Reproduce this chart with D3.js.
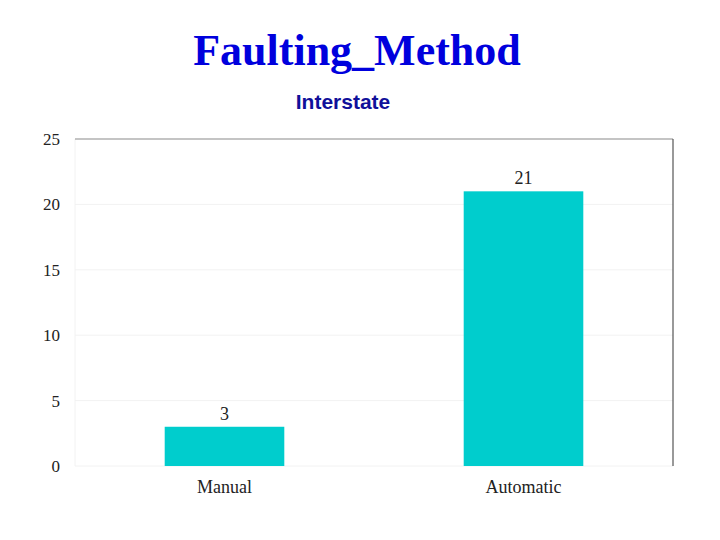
<!DOCTYPE html>
<html>
<head>
<meta charset="utf-8">
<script src="https://cdn.jsdelivr.net/npm/d3@7"></script>
<style>
  html, body { margin: 0; padding: 0; background: #fff; }
  svg { display: block; }
</style>
</head>
<body>
<div id="chart"></div>
<script>
// ── Data ─────────────────────────────────────
const categories = ["Manual", "Automatic"];
const counts     = [3, 21];
const yTicks     = [0, 5, 10, 15, 20, 25];

const W = 720, H = 540;
const plot = { left: 75, right: 673, top: 139, bottom: 466 };

const svg = d3.select("#chart")
  .append("svg")
  .attr("width",  W)
  .attr("height", H);

// ── Scales ────────────────────────────────────
const x = d3.scaleBand()
  .domain(categories)
  .range([plot.left, plot.right])
  .paddingInner(0.6)
  .paddingOuter(0.3);

const y = d3.scaleLinear()
  .domain([0, 25])
  .range([plot.bottom, plot.top]);

// ── Titles ────────────────────────────────────
svg.append("text")
  .attr("x", 357).attr("y", 65)
  .attr("text-anchor", "middle")
  .attr("fill", "#0000dd")
  .attr("font-family", "'Liberation Serif', 'Times New Roman', serif")
  .attr("font-weight", "bold")
  .attr("font-size", "44px")
  .text("Faulting_Method");

svg.append("text")
  .attr("x", 343).attr("y", 109)
  .attr("text-anchor", "middle")
  .attr("fill", "#10109a")
  .attr("font-family", "'Liberation Sans', Arial, sans-serif")
  .attr("font-weight", "bold")
  .attr("font-size", "21px")
  .text("Interstate");

// ── Grid lines ────────────────────────────────
svg.append("g")
  .selectAll("line")
  .data(yTicks.slice(0, -1))
  .join("line")
  .attr("x1", plot.left).attr("x2", plot.right)
  .attr("y1", d => y(d)).attr("y2", d => y(d))
  .attr("stroke", "#f2f2f2")
  .attr("stroke-width", 1);

// faint left axis
svg.append("line")
  .attr("x1", plot.left).attr("x2", plot.left)
  .attr("y1", plot.top).attr("y2", plot.bottom)
  .attr("stroke", "#f2f2f2");

// top + right frame
svg.append("line")
  .attr("x1", plot.left).attr("x2", plot.right)
  .attr("y1", y(25)).attr("y2", y(25))
  .attr("stroke", "#8a8a8a").attr("stroke-width", 1.2);

svg.append("line")
  .attr("x1", plot.right).attr("x2", plot.right)
  .attr("y1", y(25)).attr("y2", y(0))
  .attr("stroke", "#555").attr("stroke-width", 1.2);

// ── Y axis ────────────────────────────────────
svg.append("g")
  .attr("transform", `translate(${plot.left}, 0)`)
  .call(d3.axisLeft(y).tickValues(yTicks).tickSize(0).tickPadding(15))
  .call(g => g.select(".domain").remove())
  .call(g => g.selectAll(".tick text")
    .attr("fill", "#222")
    .attr("font-size", "17px")
    .attr("font-family", "'Liberation Serif', 'Times New Roman', serif"));

// ── X axis ────────────────────────────────────
svg.append("g")
  .attr("transform", `translate(0, ${plot.bottom})`)
  .call(d3.axisBottom(x).tickSize(0).tickPadding(14))
  .call(g => g.select(".domain").remove())
  .call(g => g.selectAll(".tick text")
    .attr("fill", "#222")
    .attr("font-size", "18px")
    .attr("font-family", "'Liberation Serif', 'Times New Roman', serif"));

// ── Bars ──────────────────────────────────────
const data = categories.map((c, i) => ({ cat: c, val: counts[i] }));

svg.append("g")
  .selectAll("rect")
  .data(data)
  .join("rect")
  .attr("x",      d => x(d.cat))
  .attr("y",      d => y(d.val))
  .attr("width",  x.bandwidth())
  .attr("height", d => y(0) - y(d.val))
  .attr("fill",   "#00cdcd");

// ── Value labels ──────────────────────────────
svg.append("g")
  .selectAll("text")
  .data(data)
  .join("text")
  .attr("x", d => x(d.cat) + x.bandwidth() / 2)
  .attr("y", d => y(d.val) - 7)
  .attr("text-anchor", "middle")
  .attr("fill", "#222")
  .attr("font-size", "18px")
  .attr("font-family", "'Liberation Serif', 'Times New Roman', serif")
  .text(d => d.val);
</script>
</body>
</html>
